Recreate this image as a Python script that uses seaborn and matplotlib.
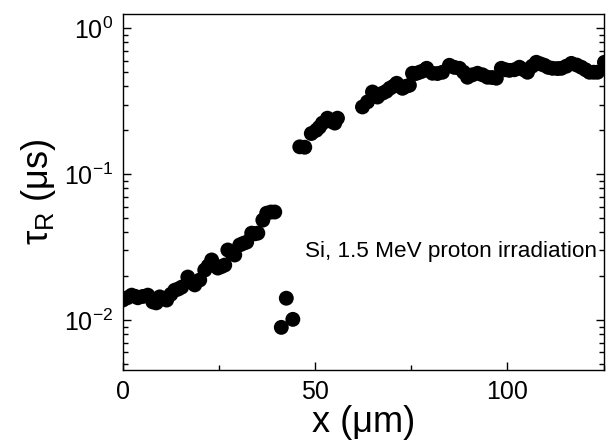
import matplotlib
matplotlib.use("Agg")
import matplotlib.pyplot as plt
import seaborn as sns
import pandas as pd
from matplotlib.ticker import LogLocator, MultipleLocator

# depth across the proton-irradiated Si sample (um)
x_um = [0, 1.2, 2.3, 3.3, 3.9, 5.2, 6.5, 7.8, 8.7, 9.6, 10.5, 11.4, 12.5, 13.5,
        14.4, 15.3, 16.9, 17.8, 18.7, 20.0, 21.3, 22.2, 23.1, 24.7, 25.6, 26.5,
        27.3, 28.2, 29.1, 30.4, 31.3, 32.2, 33.5, 34.3, 35.1, 36.4, 37.4, 38.5,
        39.5,
        41.2, 42.5, 44.2,
        46.0, 47.3, 49.0, 50.3, 51.1, 51.9, 53.2, 54.2, 55.1, 55.8,
        62.3, 63.6, 64.9, 66.2, 67.5, 68.5, 69.4, 70.3, 71.2, 72.7, 73.6, 74.5,
        75.3, 76.2, 77.1, 78.0, 79.0, 80.5, 81.8, 83.1, 84.9, 86.2, 87.5, 88.6,
        89.6, 90.9, 92.2, 93.5, 94.8, 96.0, 97.1, 98.4, 99.5, 100.5, 101.8,
        103.1, 104.2, 105.2, 106.4, 107.5, 108.6, 109.6, 110.6, 111.7, 113.0,
        114.0, 115.3, 116.6, 118.0, 119.2, 120.3, 121.3, 122.4, 123.4, 125.2]

# recombination lifetime tau_R (us)
tau_us = [0.0137, 0.0142, 0.0148, 0.0145, 0.0142, 0.0145, 0.0148, 0.0133, 0.0131,
          0.0144, 0.0140, 0.0137, 0.0150, 0.0160, 0.0163, 0.0168, 0.0197, 0.0183,
          0.0174, 0.0188, 0.0220, 0.0235, 0.0258, 0.0227, 0.0232, 0.0238, 0.0302,
          0.0290, 0.0279, 0.0327, 0.0335, 0.0342, 0.0394, 0.0390, 0.0394, 0.0484,
          0.054, 0.055, 0.055,
          0.0089, 0.0141, 0.0101,
          0.154, 0.153, 0.190, 0.200, 0.210, 0.224, 0.242, 0.230, 0.224, 0.242,
          0.289, 0.313, 0.366, 0.338, 0.359, 0.370, 0.388, 0.400, 0.420, 0.388,
          0.400, 0.407, 0.492, 0.490, 0.500, 0.510, 0.532, 0.492, 0.490, 0.500,
          0.558, 0.540, 0.532, 0.500, 0.462, 0.480, 0.492, 0.480, 0.462, 0.460,
          0.455, 0.532, 0.520, 0.515, 0.520, 0.541, 0.520, 0.500, 0.550, 0.585,
          0.570, 0.558, 0.540, 0.532, 0.530, 0.532, 0.550, 0.575, 0.560, 0.541,
          0.520, 0.500, 0.500, 0.500, 0.585]

df = pd.DataFrame({"x": x_um, "tau": tau_us})

sns.set_theme(style="ticks")
plt.rcParams["font.family"] = ["Liberation Sans", "DejaVu Sans"]
plt.rcParams["mathtext.fontset"] = "custom"
plt.rcParams["mathtext.rm"] = "Liberation Sans"
plt.rcParams["mathtext.it"] = "Liberation Sans:italic"
plt.rcParams["axes.unicode_minus"] = False
plt.rcParams["text.color"] = "black"
plt.rcParams["axes.labelcolor"] = "black"

fig = plt.figure(figsize=(6.11, 4.44), dpi=100)
ax = fig.add_axes([0.201, 0.167, 0.787, 0.801])

sns.scatterplot(data=df, x="x", y="tau", ax=ax, color="black", s=115,
                edgecolor="none", linewidth=0, legend=False, clip_on=True)

ax.set_yscale("log")
ax.set_xlim(0, 125)
ax.set_ylim(0.00455, 1.25)

ax.xaxis.set_major_locator(MultipleLocator(50))
ax.xaxis.set_minor_locator(MultipleLocator(25))
ax.yaxis.set_major_locator(LogLocator(base=10, numticks=10))
ax.yaxis.set_minor_locator(LogLocator(base=10, subs=range(2, 10), numticks=20))

ax.tick_params(which="both", direction="in", left=True, right=True,
               bottom=True, top=False, colors="black", width=1)
ax.tick_params(which="major", length=6, labelsize=18, pad=7)
ax.tick_params(which="minor", length=3.5)

for sp in ax.spines.values():
    sp.set_visible(True)
    sp.set_color("black")
    sp.set_linewidth(1.0)

ax.set_xlabel("x (μm)", fontsize=26, labelpad=1)
ax.set_ylabel("τ$_\\mathregular{R}$ (μs)", fontsize=26, labelpad=4)

ax.text(0.378, 0.334, "Si, 1.5 MeV proton irradiation", transform=ax.transAxes,
        fontsize=16.2, ha="left", va="center", color="black")

fig.savefig("out.png", dpi=100)
